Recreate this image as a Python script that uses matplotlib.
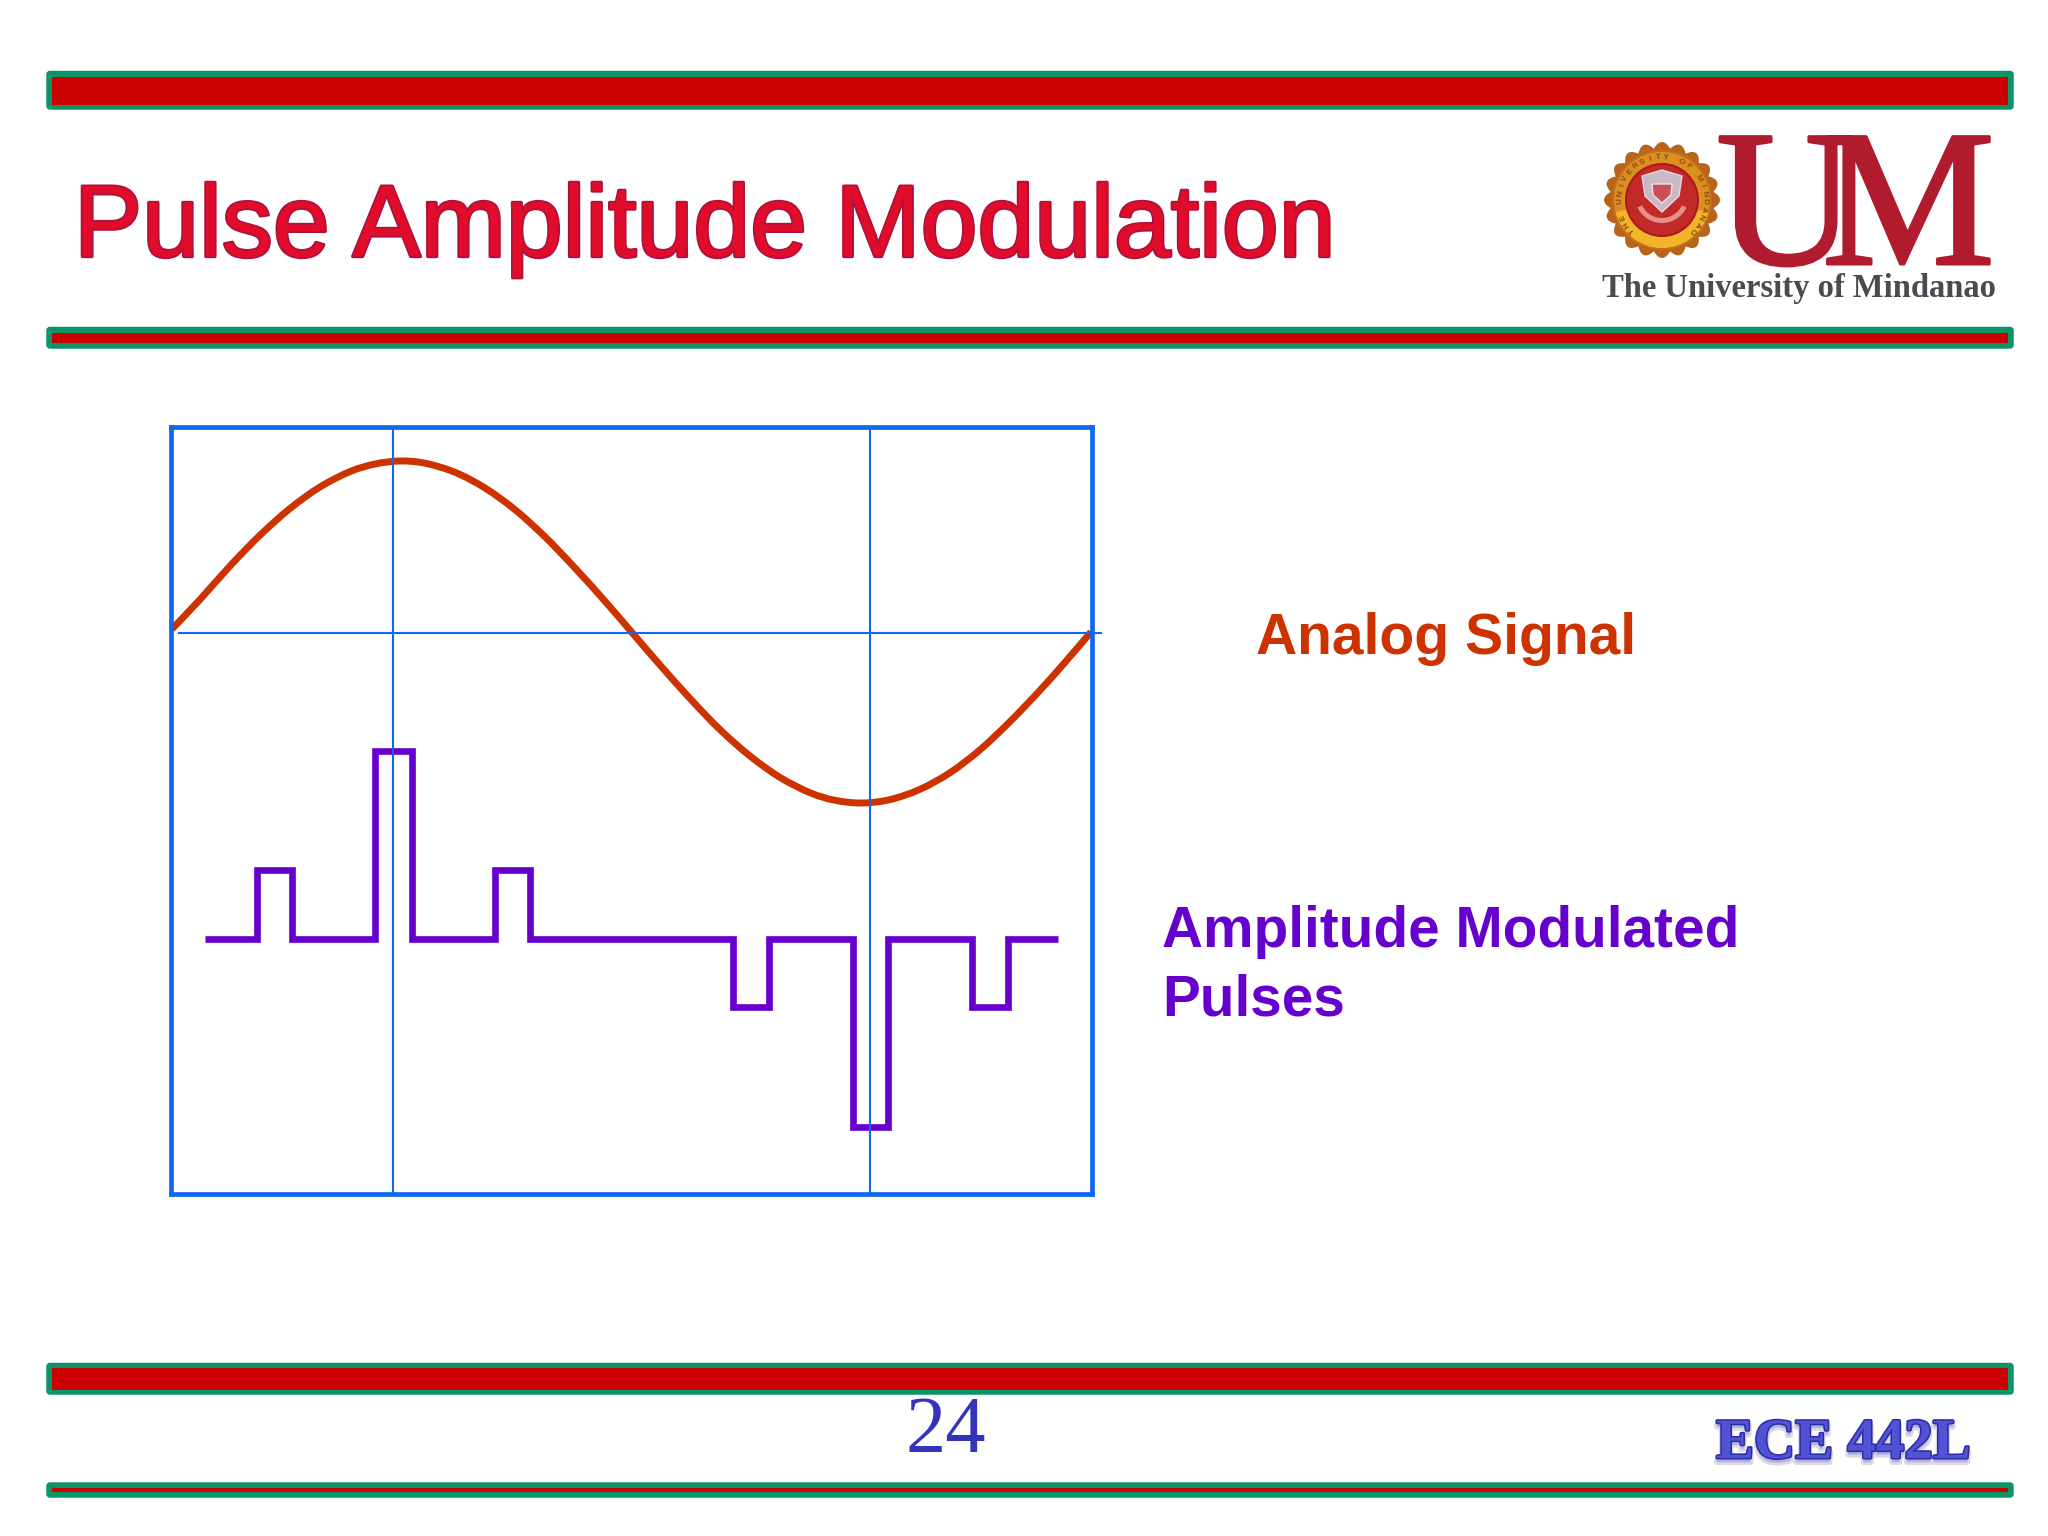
import numpy as np
import matplotlib
matplotlib.use("Agg")
import matplotlib.pyplot as plt
import matplotlib.patheffects as pe
from matplotlib.path import Path
from matplotlib.patches import Rectangle, FancyBboxPatch, Circle, Polygon, Wedge, PathPatch

# ---- data ----
signal_t = [1, 29, 59, 89, 119, 149, 179, 204, 229, 254, 284, 314, 344, 374, 404, 434, 462,
            489, 519, 549, 579, 609, 639, 664, 691, 719, 749, 779, 809, 839, 869, 894, 920]
signal_v = [4, 33.5, 67, 97.8, 124.5, 146, 161.4, 169, 172, 169.8, 160.7, 145, 123.3, 96.2, 65, 31.8, -0.7,
            -32, -65.5, -96.6, -123, -144.4, -159.7, -167.3, -170, -166.6, -156.3, -139.7, -116.8, -88.6, -57.3, -29.3, 1]
pulse_base = -306
pulse_t0 = 34
pulse_t1 = 887
pulse_start = [85.5, 204, 324, 562, 682, 801]
pulse_end = [120.5, 240.5, 359, 597.5, 717, 837]
pulse_height = [69, 188, 69, -68, -188, -68]
marker_t = [221.5, 699]

title = "Pulse Amplitude Modulation"
label_signal = "Analog Signal"
label_pulses = ["Amplitude Modulated", "Pulses"]
page_number = "24"
course = "ECE 442L"
univ = "The University of Mindanao"

BLUE = "#1068f0"; ORANGE = "#cc3300"; PURPLE = "#6600cc"
GREEN = "#0a9468"; RED = "#cc0000"; MAROON = "#b01c2e"
W, H = 2048, 1536

fig = plt.figure(figsize=(20.48, 15.36), dpi=100, facecolor="white")
bg = fig.add_axes([0, 0, 1, 1])
bg.set_xlim(0, W); bg.set_ylim(H, 0); bg.axis("off")

SANS = "Liberation Sans"; SERIF = "Liberation Serif"

# ---- header/footer bars ----
bars = [(70.5, 110, 76.5, 104.5), (326.5, 349, 332.5, 343),
        (1362.5, 1395, 1368, 1390), (1482, 1498, 1487.5, 1492)]
for top, bot, rtop, rbot in bars:
    bg.add_patch(FancyBboxPatch((48, top + 2), 1964, bot - top - 4,
                                boxstyle="round,pad=0,rounding_size=2", mutation_aspect=1,
                                fc=GREEN, ec=GREEN, lw=2.5))
    bg.add_patch(Rectangle((51.5, rtop), 1956.5, rbot - rtop, fc=RED, ec="none"))

# ---- title ----
bg.text(74, 256.5, title, family=SANS, fontsize=73.6, color="#e00c2a", va="baseline", ha="left",
        path_effects=[pe.withStroke(linewidth=2.4, foreground="#a8123c")])

# ---- logo ----
ums = [pe.withStroke(linewidth=2.2, foreground=MAROON)]
bg.text(1716, 264, "U", family=SERIF, fontsize=140, color=MAROON, va="baseline", ha="left", path_effects=ums)
bg.text(1995, 264, "M", family=SERIF, fontsize=140, color=MAROON, va="baseline", ha="right", path_effects=ums)
bg.text(1602, 297, univ, family=SERIF, weight="bold", fontsize=23.5, color="#4a4a50", va="baseline", ha="left")

cx, cy = 1662, 200
ang = np.linspace(0, 2 * np.pi, 721)
rad = 52 + 6 * np.abs(np.cos(10 * ang))
bg.add_patch(Polygon(np.c_[cx + rad * np.cos(ang), cy + rad * np.sin(ang)], fc="#b8641c", ec="none"))
bg.add_patch(Circle((cx, cy), 49, fc="#dc8f20", ec="#c07018", lw=1.5))
bg.add_patch(Wedge((cx, cy), 48, 15, 165, width=13, fc="#f2b428", ec="none"))
bg.add_patch(Circle((cx, cy), 36, fc="#c22a2a", ec="#a81c1c", lw=1.5))
for i, ch in enumerate("THE UNIVERSITY OF MINDANAO"):
    a = np.deg2rad(-225 + i * 270 / 25)
    bg.text(cx + 42.5 * np.cos(a), cy + 42.5 * np.sin(a), ch, family=SANS, weight="bold",
            fontsize=6, color="#8a4a18", ha="center", va="center",
            rotation=-np.rad2deg(a) - 90)
bg.add_patch(Polygon([(cx - 20, cy - 24), (cx, cy - 30), (cx + 20, cy - 24), (cx + 17, cy - 4),
                      (cx, cy + 12), (cx - 17, cy - 4)], fc="#c9b9c6", ec="#e8d8d8", lw=1))
bg.add_patch(Polygon([(cx - 10, cy - 16), (cx + 10, cy - 16), (cx + 9, cy - 5), (cx, cy + 3),
                      (cx - 9, cy - 5)], fc="#c8505a", ec="#f0e0e0", lw=1))
bg.add_patch(Wedge((cx, cy - 4), 27, 25, 155, width=5, fc="#e89088", ec="none"))

# ---- side labels ----
bg.text(1256, 654.5, label_signal, family=SANS, weight="bold", fontsize=41, color=ORANGE, va="baseline")
bg.text(1162, 947, label_pulses[0], family=SANS, weight="bold", fontsize=40.9, color=PURPLE, va="baseline")
bg.text(1162, 1015, label_pulses[1], family=SANS, weight="bold", fontsize=40.9, color=PURPLE, va="baseline")

# ---- footer text ----
bg.text(946, 1452, page_number, family=SERIF, fontsize=58, color="#3333bb", va="baseline", ha="center")
bg.text(1716, 1458, course, family=SERIF, weight="bold", fontsize=41, color="#5252d4", va="baseline", ha="left",
        path_effects=[pe.Stroke(linewidth=4, foreground="#9090b8", alpha=0.35, offset=(0, -3)),
                      pe.withStroke(linewidth=2.2, foreground="#2c2ca8")])

# ---- chart ----
L, R, T, B = 171, 1092, 427, 1194
zero = 633
ax = fig.add_axes([L / W, 1 - B / H, (R - L) / W, (B - T) / H], facecolor="none")
ax.set_xlim(0, R - L)
ax.set_ylim(zero - B, zero - T)
ax.set_xticks([]); ax.set_yticks([])
for s in ax.spines.values():
    s.set_color(BLUE); s.set_linewidth(3.4); s.set_zorder(6)

# smooth stroke through the read points
p = np.c_[signal_t, signal_v]
q = np.vstack([p[0], p, p[-1]])
verts = [tuple(p[0])]
codes = [Path.MOVETO]
for i in range(1, len(q) - 2):
    verts += [tuple(q[i] + (q[i + 1] - q[i - 1]) / 6),
              tuple(q[i + 1] - (q[i + 2] - q[i]) / 6),
              tuple(q[i + 1])]
    codes += [Path.CURVE4] * 3
ax.add_patch(PathPatch(Path(verts, codes), fc="none", ec=ORANGE, lw=5.0, capstyle="butt", zorder=2))

px, py = [pulse_t0], [pulse_base]
for s, e, h in zip(pulse_start, pulse_end, pulse_height):
    px += [s, s, e, e]
    py += [pulse_base, pulse_base + h, pulse_base + h, pulse_base]
px.append(pulse_t1); py.append(pulse_base)
ax.plot(px, py, color=PURPLE, lw=4.8, solid_joinstyle="miter", solid_capstyle="butt", zorder=3)

for t in marker_t:
    ax.axvline(t, color=BLUE, lw=1.5, zorder=4)
ax.plot([8, 930], [0, 0], color=BLUE, lw=1.5, zorder=4, clip_on=False)

fig.savefig("out.png", dpi=100, facecolor="white")
